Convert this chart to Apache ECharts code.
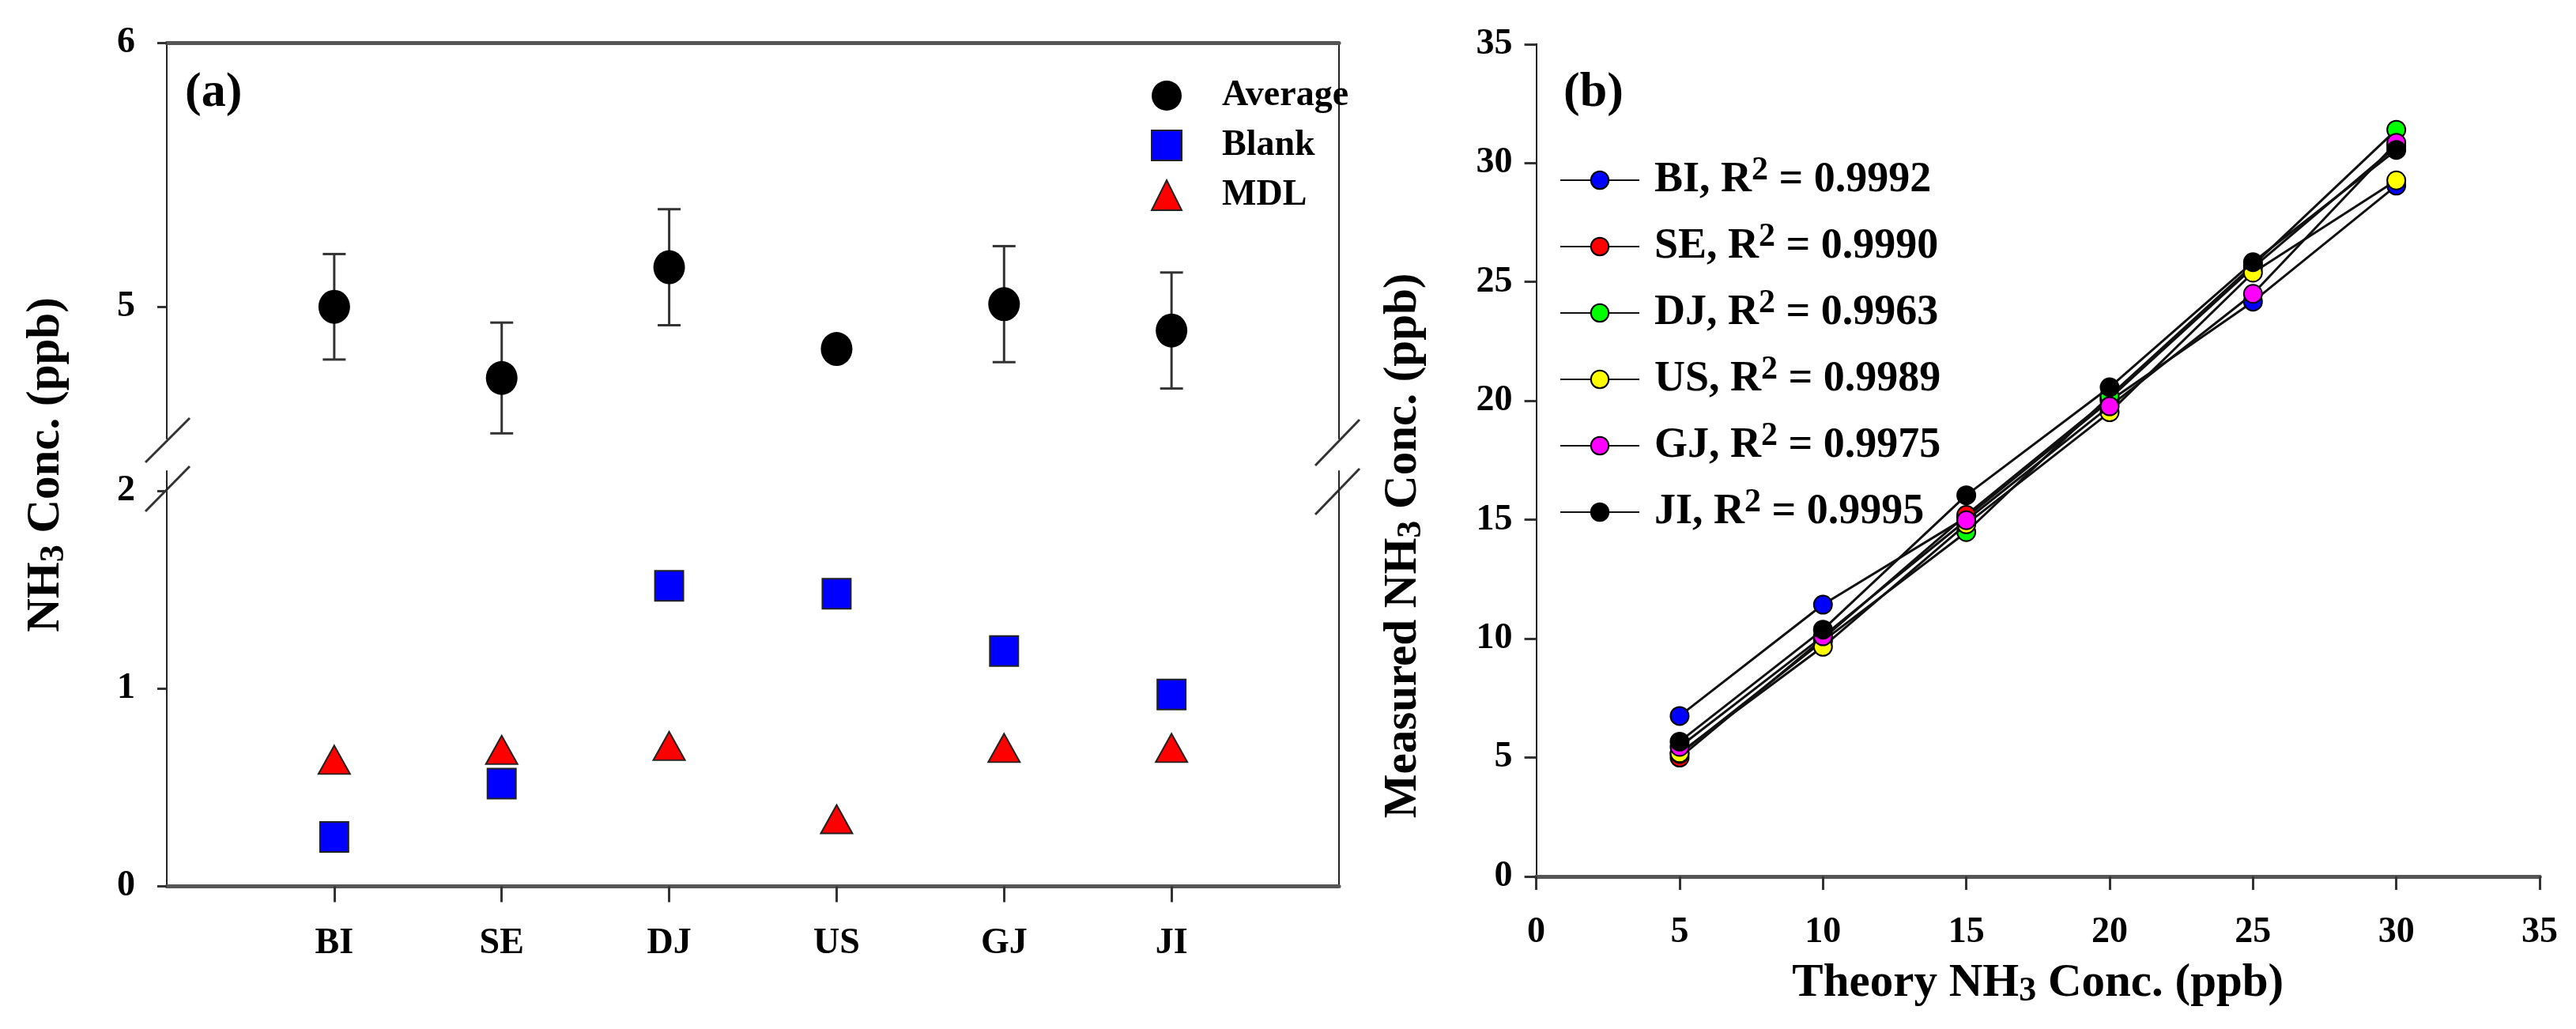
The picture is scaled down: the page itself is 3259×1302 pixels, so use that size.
<!DOCTYPE html>
<html><head><meta charset="utf-8">
<script src="https://cdn.jsdelivr.net/npm/echarts@6/dist/echarts.min.js"></script>
<style>html,body{margin:0;padding:0;background:#fff}#c{width:3259px;height:1302px}</style>
</head><body><div id="c"></div>
<script>
// ---------- Panel (a) data ----------
const categories = ['BI', 'SE', 'DJ', 'US', 'GJ', 'JI'];
const avgValues = [5.00, 4.73, 5.15, 4.84, 5.01, 4.91];
const avgErr = [0.20, 0.21, 0.22, 0, 0.22, 0.22];
const blankValues = [0.25, 0.52, 1.52, 1.48, 1.19, 0.97];
const mdlValues = [0.64, 0.69, 0.71, 0.34, 0.70, 0.70];
const upperTicks = [5, 6];
const lowerTicks = [0, 1, 2];

// ---------- Panel (b) data ----------
const theoryX = [5, 10, 15, 20, 25, 30];
const sites = ['BI', 'SE', 'DJ', 'US', 'GJ', 'JI'];
const r2Values = ['0.9992', '0.9990', '0.9963', '0.9989', '0.9975', '0.9995'];
const measuredBI = [6.75, 11.43, 15.1, 20.0, 24.17, 29.05];
const measuredSE = [5.0, 10.0, 15.2, 20.1, 25.6, 30.7];
const measuredDJ = [5.15, 9.9, 14.48, 20.2, 25.7, 31.4];
const measuredUS = [5.19, 9.66, 14.81, 19.52, 25.39, 29.27];
const measuredGJ = [5.45, 10.1, 14.98, 19.77, 24.5, 30.85];
const measuredJI = [5.67, 10.38, 16.03, 20.57, 25.83, 30.55];
const siteColors = ['#0000ff', '#ff0000', '#00ff00', '#ffff00', '#ff00ff', '#000000'];

const measured = [measuredBI, measuredSE, measuredDJ, measuredUS, measuredGJ, measuredJI];
const FONT = '"Liberation Serif","Times New Roman",serif';
const catAxisData = [''].concat(categories, ['']);

const lbl = (size) => ({fontFamily: FONT, fontSize: size, fontWeight: 'bold', color: '#000'});
const thick = {lineStyle: {color: '#555', width: 5}};
const thin = {lineStyle: {color: '#222', width: 2}};
const subRich = (size) => ({sub: {fontFamily: FONT, fontSize: size, fontWeight: 'bold', color: '#000', padding: [Math.round(size * 0.45), 0, 0, 0]}});

const chart = echarts.init(document.getElementById('c'));

const option = {
  backgroundColor: '#fff',
  animation: false,
  title: [
    {text: '(a)', left: 229, top: 82, textStyle: lbl(62)},
    {text: '(b)', left: 1973, top: 82, textStyle: lbl(62)}
  ],
  grid: [
    {left: 211, top: 54.5, width: 1483, height: 500.5},
    {left: 211, top: 596, width: 1483, height: 525.6},
    {left: 211, top: 54.5, width: 1483, height: 1067},
    {left: 1943.6, top: 55.8, width: 1269.4, height: 1053.2}
  ],
  xAxis: [
    {gridIndex: 0, type: 'category', data: catAxisData, boundaryGap: false, position: 'top',
     axisLine: thick, axisTick: {show: false}, axisLabel: {show: false}, splitLine: {show: false}},
    {gridIndex: 1, type: 'category', data: catAxisData, boundaryGap: false, position: 'bottom',
     axisLine: thick,
     axisTick: {show: true, length: 20, interval: (i) => i > 0 && i < catAxisData.length - 1, lineStyle: {color: '#333', width: 3}},
     axisLabel: Object.assign({interval: 0, margin: 50}, lbl(46)), splitLine: {show: false}},
    {gridIndex: 2, type: 'value', show: false, min: 0, max: 1},
    {gridIndex: 3, type: 'value', min: 0, max: 35, interval: 5, position: 'bottom',
     axisLine: thick, axisTick: {show: true, length: 17, lineStyle: {color: '#333', width: 3}},
     axisLabel: Object.assign({margin: 48}, lbl(46)), splitLine: {show: false},
     name: 'Theory NH{sub|3} Conc. (ppb)', nameLocation: 'middle', nameGap: 104,
     nameTextStyle: Object.assign({rich: subRich(44)}, lbl(59))},
    {gridIndex: 3, type: 'value', min: 0, max: 35, position: 'top',
     axisLine: thick, axisTick: {show: false}, axisLabel: {show: false}, splitLine: {show: false}}
  ],
  yAxis: [
    {gridIndex: 0, type: 'value', min: 4.5, max: 6, position: 'left', axisLine: Object.assign({show: true}, thin),
     axisTick: {show: true, length: 12, customValues: upperTicks, lineStyle: {color: '#333', width: 3}},
     axisLabel: Object.assign({customValues: upperTicks, margin: 40}, lbl(46)), splitLine: {show: false}},
    {gridIndex: 0, type: 'value', min: 4.5, max: 6, position: 'right', axisLine: Object.assign({show: true}, thin),
     axisTick: {show: false}, axisLabel: {show: false}, splitLine: {show: false}},
    {gridIndex: 1, type: 'value', min: 0, max: 2.1, position: 'left', axisLine: Object.assign({show: true}, thin),
     axisTick: {show: true, length: 12, customValues: lowerTicks, lineStyle: {color: '#333', width: 3}},
     axisLabel: Object.assign({customValues: lowerTicks, margin: 40}, lbl(46)), splitLine: {show: false}},
    {gridIndex: 1, type: 'value', min: 0, max: 2.1, position: 'right', axisLine: Object.assign({show: true}, thin),
     axisTick: {show: false}, axisLabel: {show: false}, splitLine: {show: false}},
    {gridIndex: 2, type: 'value', min: 0, max: 1, position: 'left', axisLine: {show: false},
     axisTick: {show: false}, axisLabel: {show: false}, splitLine: {show: false},
     name: 'NH{sub|3} Conc. (ppb)', nameLocation: 'middle', nameGap: 120,
     nameTextStyle: Object.assign({rich: subRich(44)}, lbl(59))},
    {gridIndex: 3, type: 'value', min: 0, max: 35, interval: 5, position: 'left', axisLine: Object.assign({show: true}, thin),
     axisTick: {show: true, length: 15, lineStyle: {color: '#333', width: 3}},
     axisLabel: Object.assign({margin: 30}, lbl(46)), splitLine: {show: false},
     name: 'Measured NH{sub|3} Conc. (ppb)', nameLocation: 'middle', nameGap: 136,
     nameTextStyle: Object.assign({rich: subRich(44), padding: [0, 216, 0, 0]}, lbl(59))},
    {gridIndex: 3, type: 'value', min: 0, max: 35, position: 'right', axisLine: Object.assign({show: true}, thin),
     axisTick: {show: false}, axisLabel: {show: false}, splitLine: {show: false}}
  ],
  legend: [
    {data: ['Average', 'Blank', 'MDL'], orient: 'vertical', left: 1451, top: 93,
     itemWidth: 38, itemHeight: 38, itemGap: 17,
     textStyle: Object.assign({padding: [0, 0, 0, 46]}, lbl(46))},
    {data: sites, orient: 'vertical', left: 1968, top: 190,
     itemWidth: 100, itemHeight: 28, itemGap: 18,
     formatter: (name) => '{t|' + name + ', R}{sup|2}{t| = ' + r2Values[sites.indexOf(name)] + '}',
     textStyle: Object.assign({padding: [0, 0, 0, 14], lineHeight: 56,
       rich: {
         t: {fontFamily: FONT, fontSize: 54, fontWeight: 'bold', color: '#000', lineHeight: 56},
         sup: {fontFamily: FONT, fontSize: 42, fontWeight: 'bold', color: '#000', lineHeight: 56, padding: [0, 0, 24, 0]}
       }}, lbl(54))}
  ],
  graphic: [
    {type: 'line', shape: {x1: 240, y1: 529, x2: 184, y2: 585}, style: {stroke: '#333', lineWidth: 3}},
    {type: 'line', shape: {x1: 240, y1: 590, x2: 184, y2: 647}, style: {stroke: '#333', lineWidth: 3}},
    {type: 'line', shape: {x1: 1720, y1: 531, x2: 1664, y2: 589}, style: {stroke: '#333', lineWidth: 3}},
    {type: 'line', shape: {x1: 1720, y1: 593, x2: 1664, y2: 651}, style: {stroke: '#333', lineWidth: 3}}
  ],
  series: [
    {type: 'custom', name: 'errbar', xAxisIndex: 0, yAxisIndex: 0, z: 1,
     data: categories.map((c, i) => [c, avgValues[i] - avgErr[i], avgValues[i] + avgErr[i]]),
     encode: {x: 0, y: [1, 2]},
     renderItem: function (params, api) {
       const x = api.value(0), lo = api.value(1), hi = api.value(2);
       if (!(hi - lo > 0)) return null;
       const pLo = api.coord([x, lo]), pHi = api.coord([x, hi]);
       const hw = 14.5, st = {stroke: '#333', lineWidth: 3};
       return {type: 'group', children: [
         {type: 'line', shape: {x1: pLo[0], y1: pLo[1], x2: pHi[0], y2: pHi[1]}, style: st},
         {type: 'line', shape: {x1: pHi[0] - hw, y1: pHi[1], x2: pHi[0] + hw, y2: pHi[1]}, style: st},
         {type: 'line', shape: {x1: pLo[0] - hw, y1: pLo[1], x2: pLo[0] + hw, y2: pLo[1]}, style: st}
       ]};
     }},
    {type: 'scatter', name: 'Average', xAxisIndex: 0, yAxisIndex: 0, z: 3, symbol: 'circle', symbolSize: [40, 43],
     itemStyle: {color: '#000', opacity: 1}, data: categories.map((c, i) => [c, avgValues[i]])},
    {type: 'scatter', name: 'Blank', xAxisIndex: 1, yAxisIndex: 2, z: 3, symbol: 'rect', symbolSize: [36, 38],
     itemStyle: {color: '#0000ff', borderColor: '#222', borderWidth: 2, opacity: 1}, data: categories.map((c, i) => [c, blankValues[i]])},
    {type: 'scatter', name: 'MDL', xAxisIndex: 1, yAxisIndex: 2, z: 3, symbol: 'triangle', symbolSize: [40, 36],
     itemStyle: {color: '#ff0000', borderColor: '#222', borderWidth: 2, opacity: 1}, data: categories.map((c, i) => [c, mdlValues[i]])}
  ].concat(sites.map((s, k) => ({
    type: 'line', name: s, xAxisIndex: 3, yAxisIndex: 5, z: 3 + k,
    symbol: 'circle', symbolSize: 23, showAllSymbol: true,
    lineStyle: {color: '#111', width: 3},
    itemStyle: {color: siteColors[k], borderColor: '#000', borderWidth: 2},
    data: theoryX.map((x, i) => [x, measured[k][i]])
  })))
};
chart.setOption(option);
</script></body></html>
